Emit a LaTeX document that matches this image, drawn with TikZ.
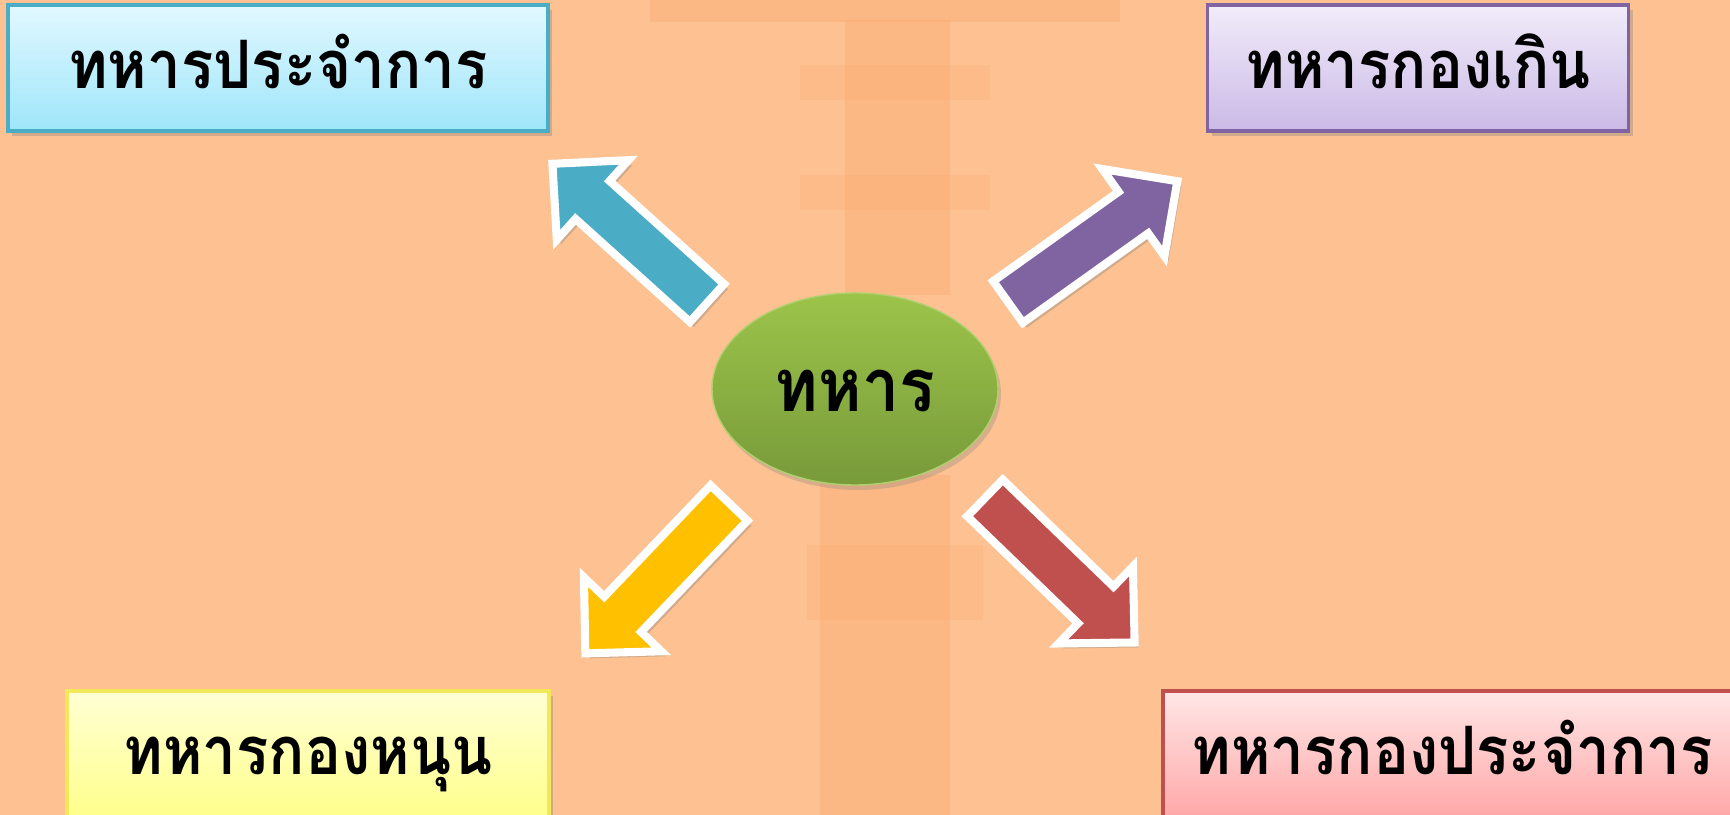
\documentclass[tikz,border=0pt]{standalone}
\usepackage{fontspec}
\newfontfamily\thaifont[Script=Thai,FakeStretch=0.9]{Loma}
\usetikzlibrary{shapes.geometric,shadows}

\definecolor{bgpeach}{RGB}{253,193,146}
\definecolor{pagoda}{RGB}{250,166,102}
\definecolor{arrowblue}{RGB}{75,172,198}
\definecolor{arrowpurple}{RGB}{128,100,162}
\definecolor{arrowyellow}{RGB}{255,192,0}
\definecolor{arrowred}{RGB}{192,80,77}
\definecolor{hubgreen}{RGB}{156,196,74}
\definecolor{hubdark}{RGB}{120,154,58}

\tikzset{
  rankbox/.style={rectangle, line width=1pt, minimum width=#1, minimum height=1.26cm,
    inner sep=0pt, text height=0.52cm, text depth=0.1cm,
    font=\thaifont\bfseries\fontsize{19}{23}\selectfont,
    drop shadow={shadow xshift=0.04cm, shadow yshift=-0.05cm, opacity=0.35}},
  hub/.style={ellipse, draw=hubgreen!80!white, minimum width=2.86cm, minimum height=1.92cm,
    inner sep=0pt, text height=0.55cm, text depth=0.1cm, top color=hubgreen, bottom color=hubdark,
    font=\thaifont\bfseries\fontsize{21}{25}\selectfont,
    drop shadow={shadow xshift=0.03cm, shadow yshift=-0.05cm, opacity=0.3}},
  fatline/.style={draw=white, line width=2.3pt, line join=miter,
    drop shadow={shadow xshift=0.04cm, shadow yshift=-0.05cm, opacity=0.35}}
}

% big block arrow: tail point, direction, colour
\newcommand{\fatarrow}[3]{%
  \begin{scope}[shift={#1},rotate=#2]
    \path[fatline,fill=#3] (0,-0.255) -- (1.54,-0.255) -- (1.54,-0.535) -- (2.08,0)
      -- (1.54,0.535) -- (1.54,0.255) -- (0,0.255) -- cycle;
  \end{scope}}

\begin{document}
\begin{tikzpicture}
    \useasboundingbox (0,0) rectangle (17.3,8.15);
    \fill[bgpeach] (0,0) rectangle (17.3,8.15);
    % blurred pagoda behind the hub
    \fill[pagoda,opacity=0.3] (6.5,7.93) rectangle (11.2,8.15);
    \fill[pagoda,opacity=0.3] (8.45,5.2) rectangle (9.5,7.95);
    \fill[pagoda,opacity=0.2] (8.0,7.15) rectangle (9.9,7.5);
    \fill[pagoda,opacity=0.2] (8.0,6.05) rectangle (9.9,6.4);
    \fill[pagoda,opacity=0.3] (8.2,0) rectangle (9.5,3.4);
    \fill[pagoda,opacity=0.2] (8.07,1.95) rectangle (9.83,2.7);

	 \node[rankbox=5.40cm, draw=arrowblue, top color={rgb,255:red,226;green,248;blue,255},
	   bottom color={rgb,255:red,158;green,230;blue,250}] (regular) at (2.78,7.47) {ทหารประจำการ};
	 \node[rankbox=4.21cm, draw=arrowpurple, top color={rgb,255:red,242;green,236;blue,250},
	   bottom color={rgb,255:red,202;green,186;blue,230}] (recruit) at (14.18,7.47) {ทหารกองเกิน};
	 \node[rankbox=4.82cm, draw={rgb,255:red,242;green,232;blue,90}, top color={rgb,255:red,255;green,255;blue,212},
	   bottom color={rgb,255:red,255;green,255;blue,140}] (reserve) at (3.08,0.61) {ทหารกองหนุน};
	 \node[rankbox=5.78cm, draw=arrowred, top color={rgb,255:red,255;green,230;blue,230},
	   bottom color={rgb,255:red,255;green,168;blue,168}] (conscript) at (14.52,0.61) {ทหารกองประจำการ};

	 \node[hub] (soldier) at (8.55,4.26) {ทหาร};

	 \coordinate (upLeft) at (7.07,5.12);
	 \coordinate (upRight) at (10.08,5.13);
	 \coordinate (downLeft) at (7.29,3.12);
	 \coordinate (downRight) at (9.85,3.17);
	 \fatarrow{(upLeft)}{138}{arrowblue}
	 \fatarrow{(upRight)}{35.5}{arrowpurple}
	 \fatarrow{(downLeft)}{226.3}{arrowyellow}
	 \fatarrow{(downRight)}{-44}{arrowred}
\end{tikzpicture}
\end{document}
